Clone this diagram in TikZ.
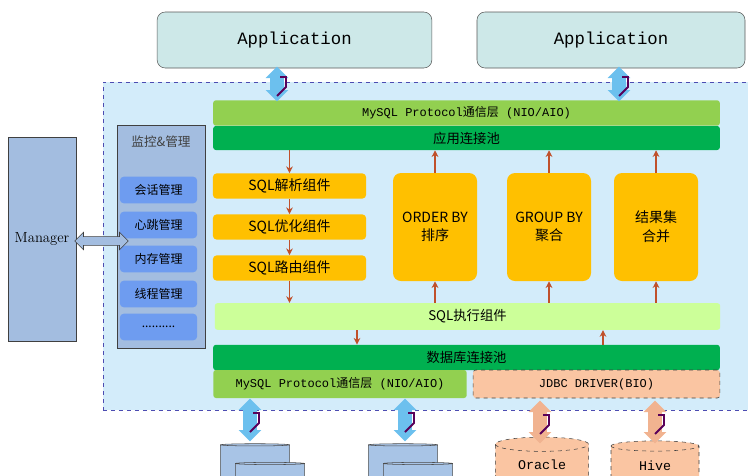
\documentclass[tikz,border=0pt]{standalone}
\usepackage{fontspec}
\newfontfamily\cjk{Noto Sans CJK SC}
\newfontfamily\mono{Liberation Mono}
\usetikzlibrary{positioning,arrows.meta,shapes.arrows,shapes.geometric,calc}
\definecolor{appfill}{HTML}{CDE8E8}
\definecolor{outerfill}{HTML}{D3ECFA}
\definecolor{lgreen}{HTML}{92D050}
\definecolor{dgreen}{HTML}{00B050}
\definecolor{mgrfill}{HTML}{A3BDE0}
\definecolor{itemfill}{HTML}{6E9CF0}
\definecolor{orange}{HTML}{FFC000}
\definecolor{execfill}{HTML}{CCFF99}
\definecolor{peach}{HTML}{FAC5A2}
\definecolor{brown}{HTML}{C0502B}
\definecolor{skyarrow}{HTML}{6CC0EE}
\definecolor{dbblue}{HTML}{A8C4E6}
\tikzset{
  appbox/.style={rectangle, rounded corners=6pt, draw=gray!70!black, fill=appfill, font=\mono\fontsize{13}{15}\selectfont},
  bar/.style={rectangle, rounded corners=2pt, inner sep=0pt, font=\cjk\fontsize{10}{12}\selectfont},
  sqlbox/.style={rectangle, rounded corners=3pt, fill=orange, inner sep=0pt, font=\cjk\fontsize{10.5}{12}\selectfont},
  opbox/.style={rectangle, rounded corners=6pt, fill=orange, inner sep=0pt, align=center, font=\cjk\fontsize{10.5}{14}\selectfont},
  item/.style={rectangle, rounded corners=3pt, fill=itemfill, inner sep=0pt, font=\cjk\fontsize{9}{11}\selectfont},
  barrow/.style={-{Stealth[length=5pt,width=5pt]}, brown, thick},
  dbl/.style={double arrow, double arrow head extend=3pt, minimum width=17pt, inner xsep=0pt, inner ysep=4.5pt, rotate=90},
  bolt/.style={draw=violet!70!black, line width=1.4pt},
  db/.style={draw=gray!60!black, fill=dbblue},
  ext/.style={cylinder, draw=gray!50!black, dashed, fill=peach, shape border rotate=90, aspect=0.25, font=\mono\fontsize{10}{12}\selectfont},
}
\begin{document}
\begin{tikzpicture}[x=0.75pt,y=-0.75pt]
\useasboundingbox (0,0) rectangle (748,475);
\clip (0,0) rectangle (748,475);

% top applications
\node (app1) [appbox, minimum width=206pt, minimum height=42pt] at (294.5,40) {Application};
\node (app2) [appbox, minimum width=201pt, minimum height=42pt] at (611,40) {Application};

% outer frame
\node (frame) [rectangle, draw=gray!60!blue, dashed, fill=outerfill, minimum width=484pt, minimum height=246pt] at (425.5,246) {};

% protocol and pool bars
\node (proto) [bar, fill=lgreen, minimum width=380pt, minimum height=19pt, font=\mono\fontsize{9}{10}\selectfont] at (466.5,113) {MySQL Protocol{\cjk 通信层} (NIO/AIO)};
\node (apppool) [bar, fill=dgreen, minimum width=380pt, minimum height=18pt] at (466.5,138) {应用连接池};

% monitor and manage
\node (mon) [rectangle, draw=gray!50!black, fill=mgrfill, minimum width=66pt, minimum height=167pt] at (161,236.5) {};
\node [below=5pt of mon.north, font=\cjk\fontsize{9.5}{11}\selectfont, text=gray!50!black] {监控\&管理};
\node (it1) [item, minimum width=58pt, minimum height=20pt] at (158.5,190) {会话管理};
\node (it2) [item, minimum width=58pt, minimum height=20pt] at (158.5,225) {心跳管理};
\node (it3) [item, minimum width=58pt, minimum height=20pt] at (158.5,259) {内存管理};
\node (it4) [item, minimum width=58pt, minimum height=20pt] at (158.5,294) {线程管理};
\node (it5) [item, minimum width=58pt, minimum height=20pt] at (158.5,327) {..........};

\node (mgr) [rectangle, draw=gray!50!black, fill=mgrfill, minimum width=51pt, minimum height=153pt, inner sep=0pt, font=\fontsize{11}{13}\selectfont] at (42,239) {Manager};
\node (mgrarrow) [double arrow, draw=gray!50!black, fill=mgrfill, minimum width=13pt, minimum height=40pt, double arrow head extend=3pt, inner xsep=0pt, inner ysep=3pt] at (101.5,241) {};

% SQL components
\node (parse) [sqlbox, minimum width=115pt, minimum height=19pt] at (289.5,186) {SQL解析组件};
\node (optim) [sqlbox, minimum width=115pt, minimum height=19pt] at (289.5,227) {SQL优化组件};
\node (route) [sqlbox, minimum width=115pt, minimum height=19pt] at (289.5,268) {SQL路由组件};
\node (order) [opbox, minimum width=63pt, minimum height=81pt] at (435,227) {ORDER BY\\排序};
\node (group) [opbox, minimum width=63pt, minimum height=81pt] at (549,227) {GROUP BY\\聚合};
\node (merge) [opbox, minimum width=63pt, minimum height=81pt] at (656,227) {结果集\\合并};

\node (exec) [bar, fill=execfill, minimum width=379pt, minimum height=20pt] at (467.5,316.5) {SQL执行组件};
\node (dbpool) [bar, fill=dgreen, minimum width=380pt, minimum height=19pt] at (466.5,357.5) {数据库连接池};
\node (proto2) [bar, fill=lgreen, minimum width=190pt, minimum height=21pt, font=\mono\fontsize{9}{10}\selectfont] at (340,384) {MySQL Protocol{\cjk 通信层} (NIO/AIO)};
\node (jdbc) [bar, draw=gray!50!black, dashed, fill=peach, minimum width=185pt, minimum height=21pt, font=\mono\fontsize{9}{10}\selectfont] at (596.5,384) {JDBC DRIVER(BIO)};

% flow arrows
\draw[barrow] (apppool.south -| parse) -- (parse.north);
\draw[barrow] (parse) -- (optim);
\draw[barrow] (optim) -- (route);
\draw[barrow] (route) -- (exec.north -| route);
\foreach \b in {order,group,merge}{
  \draw[barrow] (\b.north) -- (apppool.south -| \b);
  \draw[barrow] (exec.north -| \b) -- (\b.south);
}
\coordinate (downx) at (357,0);
\coordinate (upx) at (603,0);
\draw[barrow] (exec.south -| downx) -- (dbpool.north -| downx);
\draw[barrow] (dbpool.north -| upx) -- (exec.south -| upx);

% databases
\foreach \x/\n in {255/a,403/b}{
  \node (db\n1) [db, cylinder, shape border rotate=90, aspect=0.25, minimum width=52pt, minimum height=50pt] at (\x,478) {};
  \node (db\n2) [db, cylinder, shape border rotate=90, aspect=0.25, minimum width=52pt, minimum height=40pt] at (\x+15,490) {};
}
\node (oracle) [ext, minimum width=70pt, minimum height=34pt] at (542,465) {Oracle};
\node (hive) [ext, minimum width=66pt, minimum height=32pt] at (655,466) {Hive};

% link arrows
\node (l1) [dbl, fill=skyarrow, minimum height=26pt] at (277,84) {};
\node (l2) [dbl, fill=skyarrow, minimum height=26pt] at (619,84) {};
\node (l3) [dbl, fill=skyarrow, minimum height=32pt] at (250,420) {};
\node (l4) [dbl, fill=skyarrow, minimum height=32pt] at (405,420) {};
\node (l5) [dbl, fill=peach!85!brown, minimum height=32pt] at (540,422) {};
\node (l6) [dbl, fill=peach!85!brown, minimum height=32pt] at (655,422) {};
\foreach \l in {l1,l2,l3,l4,l5,l6}
  \draw[bolt] ($(\l.center)+(3,-7)$) -- ++(6,0) -- ++(0,10) -- ++(-9,9);
\end{tikzpicture}
\end{document}
